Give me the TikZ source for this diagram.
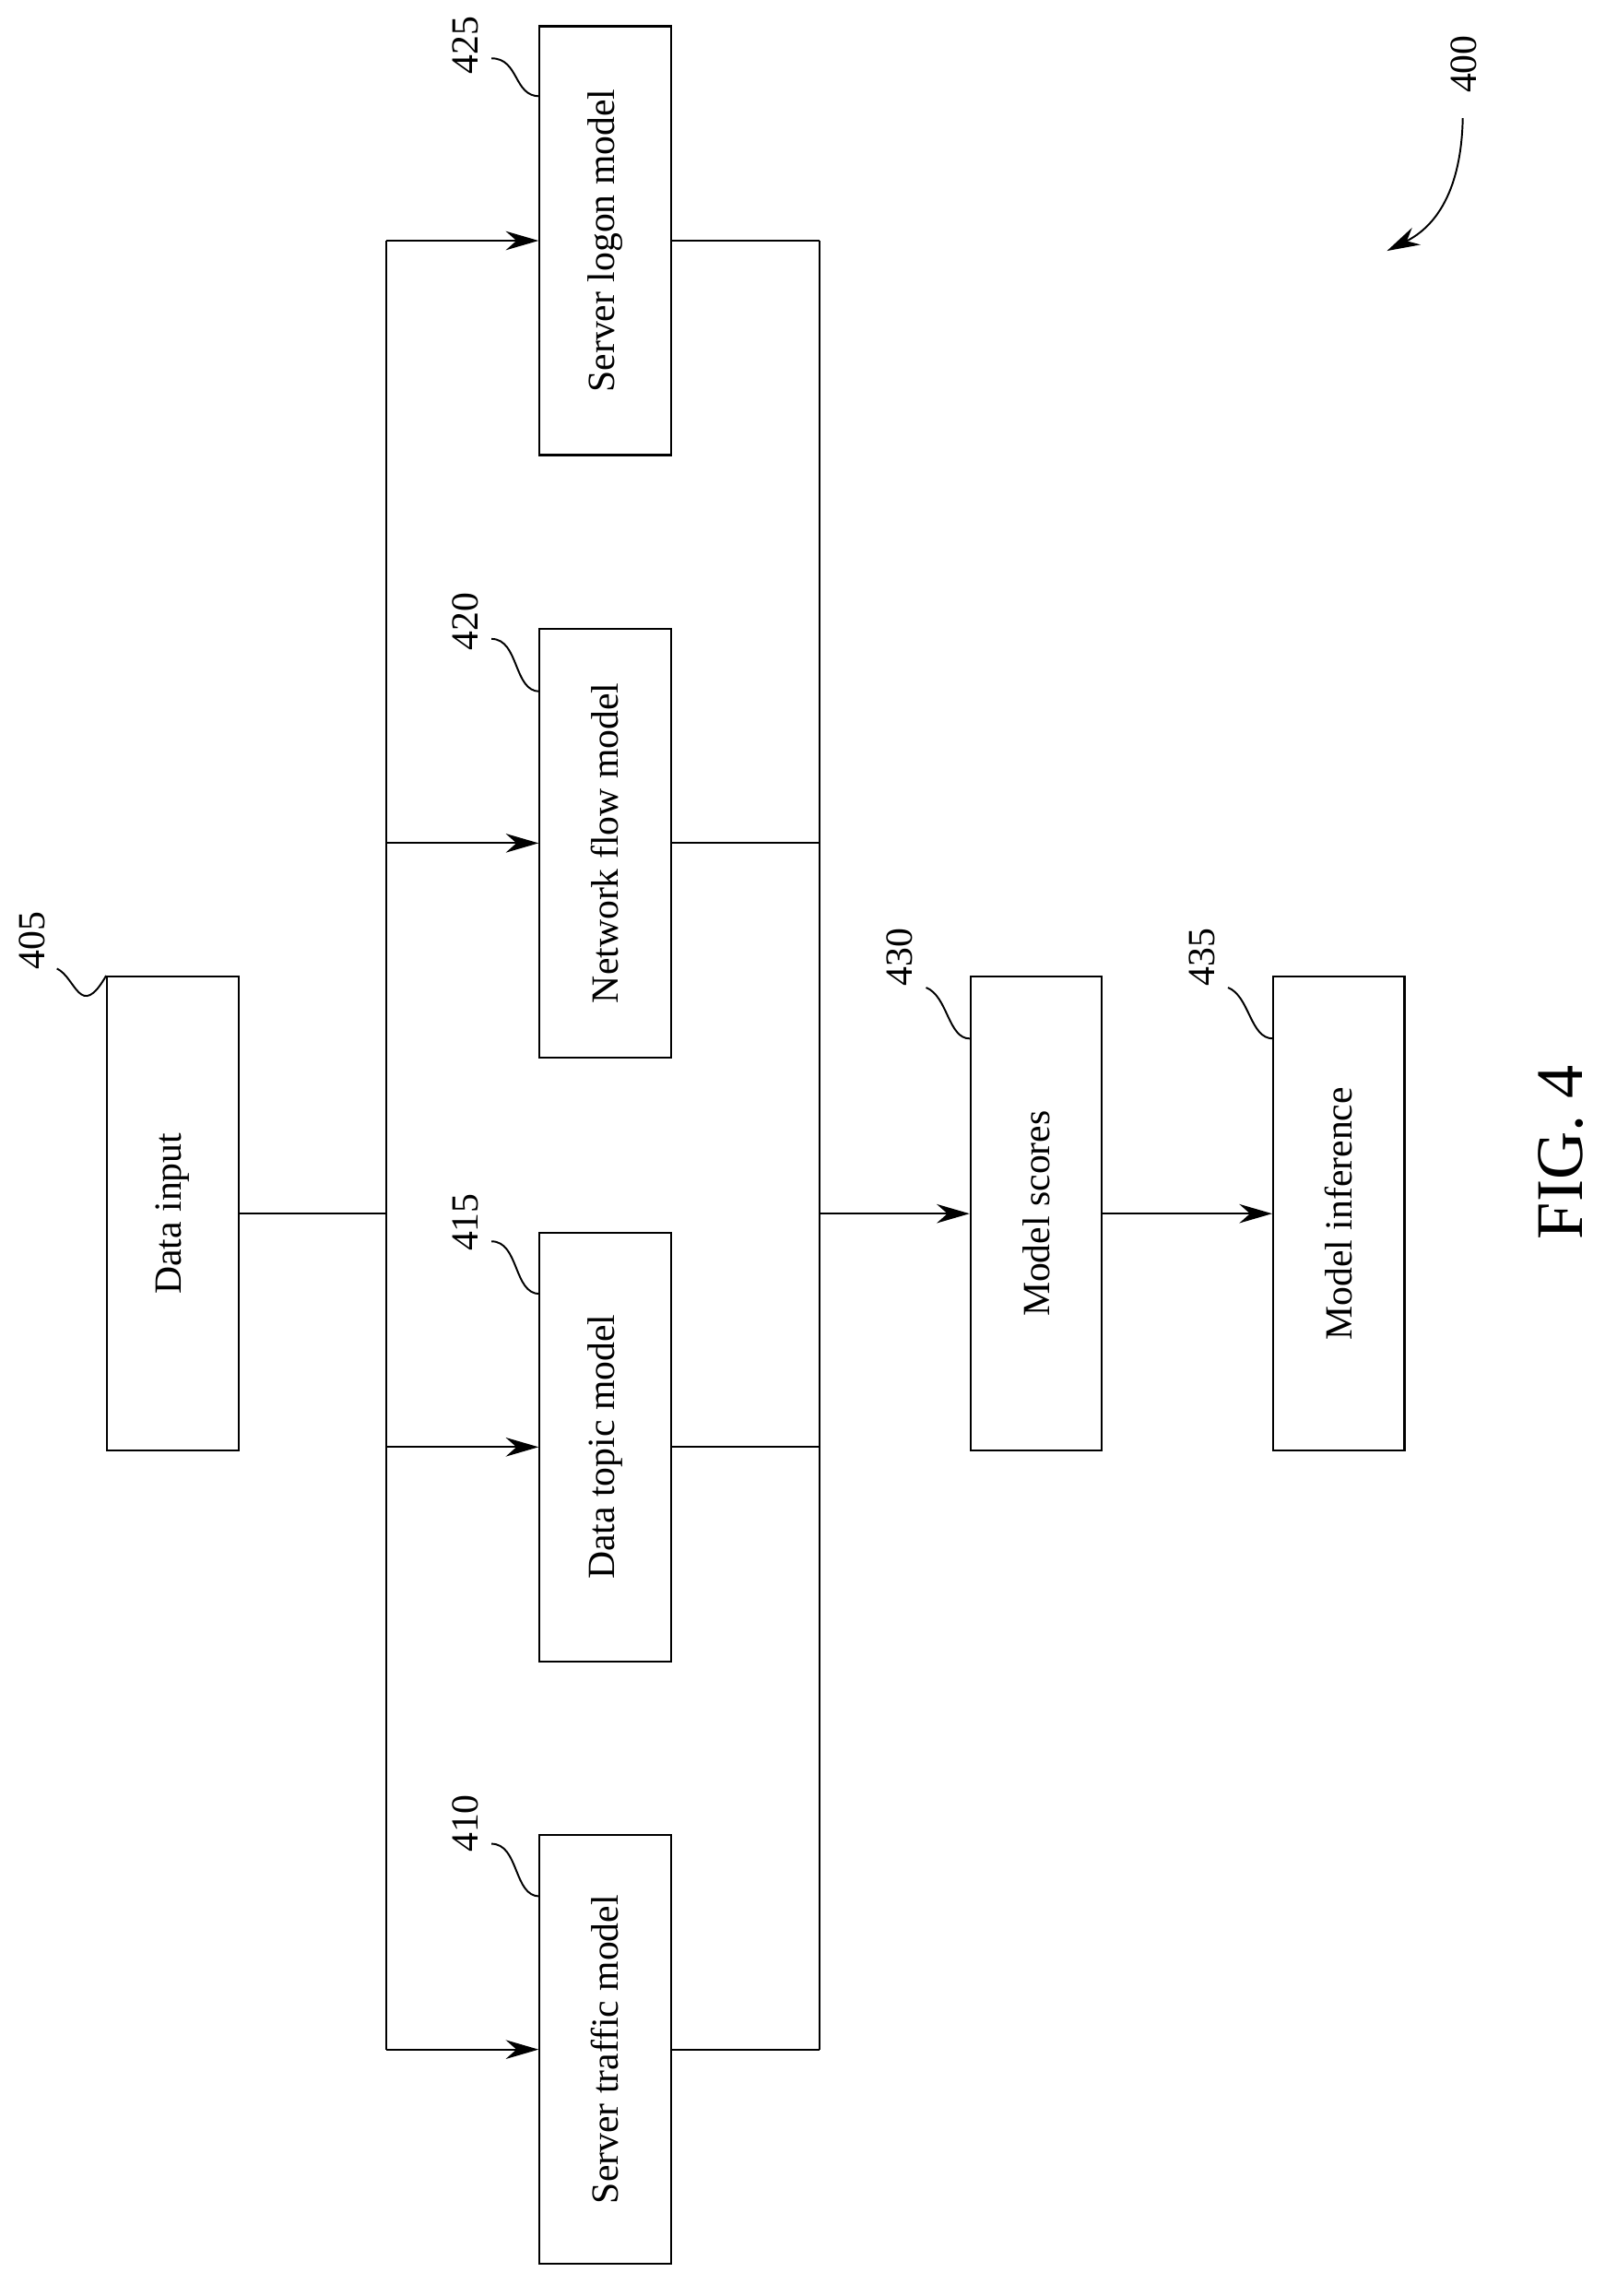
\documentclass[tikz,border=0pt]{standalone}
\usepackage{fontspec}
\setmainfont{Liberation Serif}
\usetikzlibrary{arrows.meta}
\begin{document}
\begin{tikzpicture}[
    x=0.02cm, y=-0.02cm, line width=0.8pt,
    block/.style={
      rectangle, draw=black, rotate=90, minimum width=5.88cm, minimum height=1.8cm,
      inner sep=0pt, font=\fontsize{15}{17}\selectfont
    },
    longblock/.style={block, minimum width=6.5cm, minimum height=1.8cm},
    refnum/.style={rotate=90, font=\fontsize{15}{17}\selectfont, inner sep=0pt},
    arrow/.style={-{Stealth[length=4.5mm, width=2.6mm]}},
    squiggle/.style={line width=0.7pt}
  ]
  \useasboundingbox (0,0) rectangle (1100,1574);
  % Boxes
  \node[longblock] (in) at (118.5,832) {Data input};
  \node[block] (m410) at (415,1405) {Server traffic model};
  \node[block] (m415) at (415,992) {Data topic model};
  \node[block] (m420) at (415,578) {Network flow model};
  \node[block] (m425) at (415,165) {Server logon model};
  \node[longblock] (scores) at (710.5,832) {Model scores};
  \node[longblock] (infer) at (918,832) {Model inference};
  % Bus points
  \coordinate (busl) at (265,832);
  \coordinate (busr) at (562,832);
  % Connectors
  \draw (in.south) -- (busl);
  \draw (m425.north -| busl) -- (m410.north -| busl);
  \draw (m425.south -| busr) -- (m410.south -| busr);
  \foreach \m in {m410,m415,m420,m425} {
    \draw[arrow] (\m.north -| busl) -- (\m.north);
    \draw (\m.south) -- (\m.south -| busr);
  }
  \draw[arrow] (busr) -- (scores.north);
  \draw[arrow] (scores.south) -- (infer.north);
  % Reference numerals
  \node[refnum] (l405) at (22,645) {405};
  \node[refnum] (l410) at (319,1250) {410};
  \node[refnum] (l415) at (319,838) {415};
  \node[refnum] (l420) at (319,426) {420};
  \node[refnum] (l425) at (319,31) {425};
  \node[refnum] (l430) at (617,656) {430};
  \node[refnum] (l435) at (824,656) {435};
  \node[refnum] (l400) at (1004,44) {400};
  \draw[squiggle] (39,664) .. controls (52,670) and (55,700) .. (in.north east);
  \draw[squiggle] (337,1264) .. controls (356,1264) and (352,1300) .. (370,1300);
  \draw[squiggle] (337,851) .. controls (356,851) and (352,887) .. (370,887);
  \draw[squiggle] (337,438) .. controls (356,438) and (352,474) .. (370,474);
  \draw[squiggle] (337,40) .. controls (356,40) and (352,66) .. (370,66);
  \draw[squiggle] (635,677) .. controls (650,683) and (650,712) .. (665,712);
  \draw[squiggle] (842,677) .. controls (857,683) and (857,712) .. (873,712);
  \draw[arrow, line width=0.7pt] (1003,81) .. controls (1002,130) and (985,155) .. (951,172);
  % Figure caption
  \node[rotate=90, font=\fontsize{26}{30}\selectfont] (fig) at (1070,790) {FIG. 4};
\end{tikzpicture}
\end{document}
